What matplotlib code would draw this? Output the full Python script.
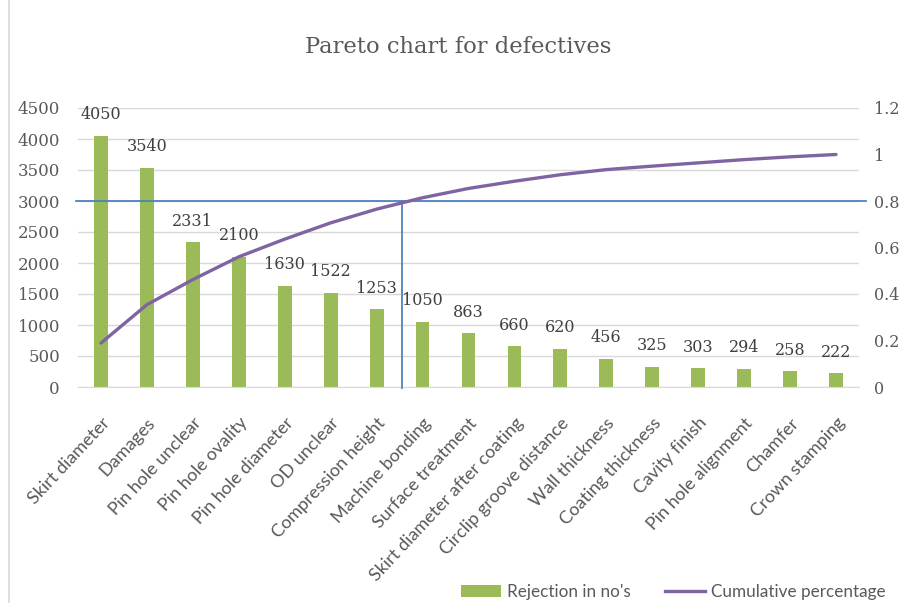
import matplotlib
matplotlib.use("Agg")
import matplotlib.pyplot as plt
from matplotlib.lines import Line2D
from matplotlib.patches import Patch

categories = ["Skirt diameter", "Damages", "Pin hole unclear", "Pin hole ovality",
              "Pin hole diameter", "OD unclear", "Compression height", "Machine bonding",
              "Surface treatment", "Skirt diameter after coating", "Circlip groove distance",
              "Wall thickness", "Coating thickness", "Cavity finish", "Pin hole alignment",
              "Chamfer", "Crown stamping"]
rejections = [4050, 3540, 2331, 2100, 1630, 1522, 1253, 1050, 863, 660, 620, 456, 325, 303, 294, 258, 222]
cumulative = [0.189, 0.354, 0.462, 0.560, 0.636, 0.706, 0.765, 0.814, 0.854, 0.885,
              0.913, 0.935, 0.950, 0.964, 0.978, 0.990, 1.0]
left_ticks = [0, 500, 1000, 1500, 2000, 2500, 3000, 3500, 4000, 4500]
right_ticks = [0, 0.2, 0.4, 0.6, 0.8, 1.0, 1.2]
right_labels = ["0", "0.2", "0.4", "0.6", "0.8", "1", "1.2"]
threshold_value = 3000
cutoff_x = 6.55

GREEN = "#9BBB59"
PURPLE = "#8064A2"
BLUE = "#4F81BD"
TXT = "#595959"
GRID = "#D9D9D9"

fig = plt.figure(figsize=(9.01, 6.03), dpi=100)
ax = fig.add_axes([78/901, 1-387/603, (859-78)/901, (387-108)/603])
x = list(range(len(categories)))

ax.set_axisbelow(True)
ax.yaxis.grid(True, color=GRID, linewidth=1)
ax.bar(x, rejections, width=0.3, color=GREEN, zorder=2)
ax.set_xlim(-0.5, len(categories) - 0.5)
ax.set_ylim(0, 4500)
ax.set_yticks(left_ticks)
ax.set_yticklabels([str(v) for v in left_ticks], fontfamily="DejaVu Serif", fontsize=12, color=TXT)
ax.tick_params(axis="y", length=0, pad=13)
ax.set_xticks(x)
ax.set_xticklabels(categories, rotation=47, ha="right", rotation_mode="anchor",
                   fontfamily="Lato", fontsize=13, color=TXT)
ax.tick_params(axis="x", length=0, pad=20)
for s in ["top", "right", "left"]:
    ax.spines[s].set_visible(False)
ax.spines["bottom"].set_color(GRID)

for xi, v in zip(x, rejections):
    ax.annotate(str(v), (xi, v), xytext=(0, 9), textcoords="offset points",
                ha="center", va="bottom", fontfamily="DejaVu Serif", fontsize=11.5, color="#404040")

ax2 = ax.twinx()
ax2.set_ylim(0, 1.2)
ax2.set_yticks(right_ticks)
ax2.set_yticklabels(right_labels, fontfamily="DejaVu Serif", fontsize=11.5, color=TXT)
ax2.tick_params(axis="y", length=0, pad=11)
for s in ["top", "right", "left", "bottom"]:
    ax2.spines[s].set_visible(False)
ax2.plot(x, cumulative, color=PURPLE, linewidth=2.4, zorder=3, solid_capstyle="round")

# 80% threshold lines
ax.plot([-0.55, len(categories) - 0.35], [threshold_value, threshold_value], color=BLUE,
        linewidth=1.3, clip_on=False, zorder=4)
ax.plot([cutoff_x, cutoff_x], [-20, threshold_value], color=BLUE, linewidth=1.3,
        clip_on=False, zorder=4)

fig.text(0.509, 1-47/603, "Pareto chart for defectives", ha="center", va="center",
         fontfamily="DejaVu Serif", fontsize=16.3, color=TXT)

handles = [Patch(facecolor=GREEN, edgecolor="none", label="Rejection in no's"),
           Line2D([0], [0], color=PURPLE, linewidth=2.4, label="Cumulative percentage")]
fig.legend(handles=handles, loc="center", bbox_to_anchor=(673/901, 1-592/603), ncol=2,
           frameon=False, prop={"family": "Lato", "size": 12.3}, labelcolor=TXT,
           handlelength=2.35, handleheight=0.7, columnspacing=2.0, handletextpad=0.35)

fig.add_artist(Line2D([9/901, 9/901], [0, 1], color=GRID, linewidth=1.2))

fig.savefig("out.png", dpi=100, facecolor="white")
